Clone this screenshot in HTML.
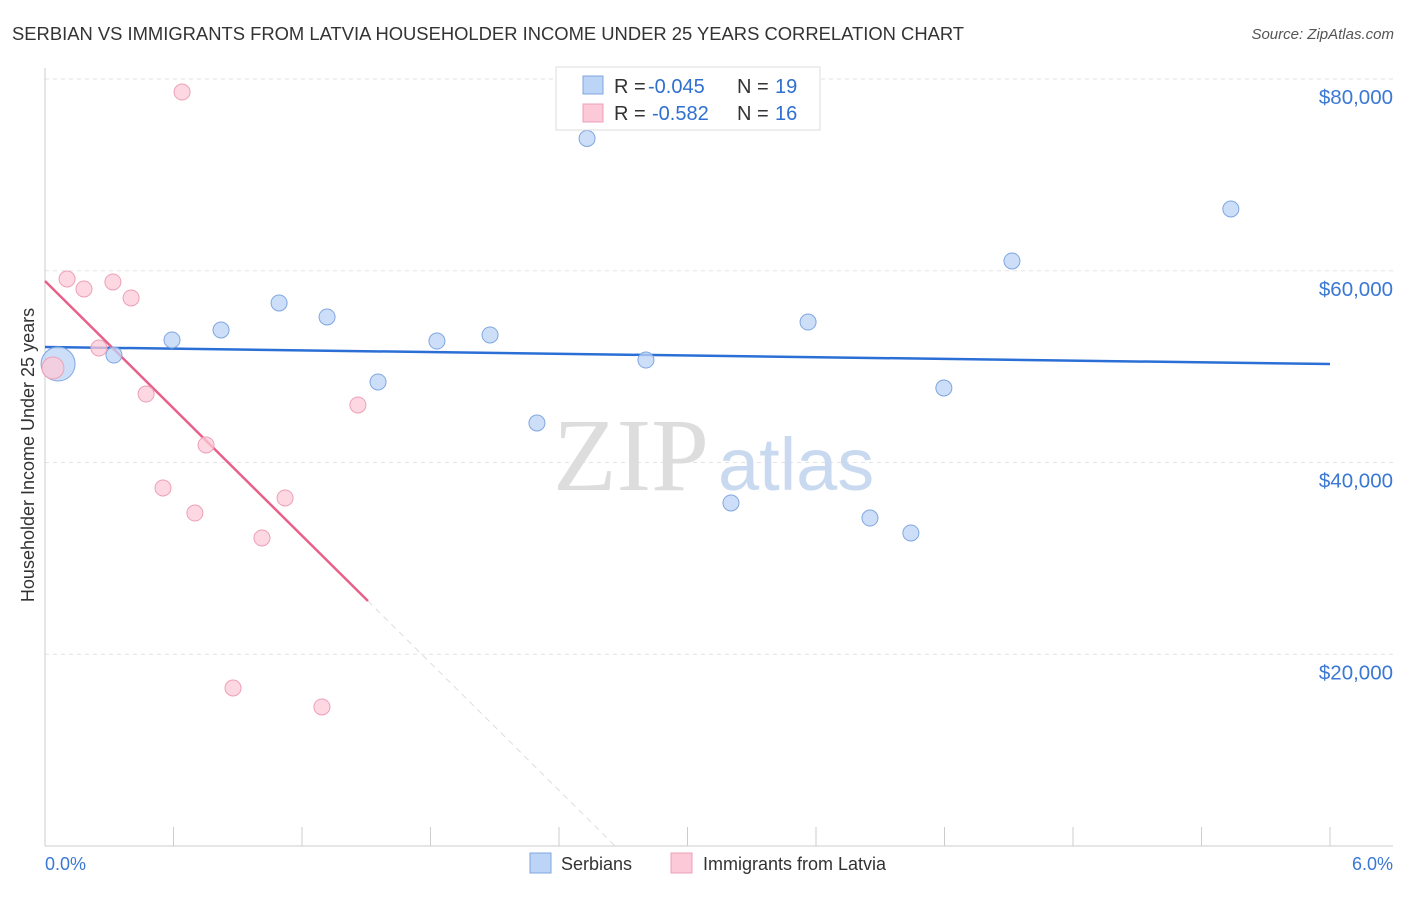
<!DOCTYPE html>
<html><head><meta charset="utf-8"><style>
body{margin:0;background:#fff;font-family:"Liberation Sans",sans-serif;}
</style></head><body>
<svg width="1406" height="892" xmlns="http://www.w3.org/2000/svg" font-family="Liberation Sans, sans-serif">
<text x="12" y="40" font-size="18.4" fill="#333">SERBIAN VS IMMIGRANTS FROM LATVIA HOUSEHOLDER INCOME UNDER 25 YEARS CORRELATION CHART</text>
<text x="1394" y="39" font-size="15" fill="#555" font-style="italic" text-anchor="end">Source: ZipAtlas.com</text>
<g id="grid"></g>
<g id="axes"></g>
<text x="553" y="490" font-size="104" fill="#ddd" font-family="Liberation Serif, serif">ZIP</text>
<text x="718" y="490" font-size="74" fill="#c9daf0">atlas</text>
<g id="lines"></g>
<g id="pts"></g>
<text x="34" y="455" font-size="18" fill="#333" text-anchor="middle" transform="rotate(-90 34 455)">Householder Income Under 25 years</text>
<text x="45" y="870" font-size="18" fill="#3a78d4">0.0%</text>
<text x="1393" y="870" font-size="18" fill="#3a78d4" text-anchor="end">6.0%</text>
<g>
<rect x="556" y="67" width="264" height="63" fill="#fff" stroke="#ddd"/>
<rect x="583" y="76" width="20" height="18" fill="#bcd4f5" stroke="#7fa6e0"/>
<rect x="583" y="104" width="20" height="18" fill="#fcc9d8" stroke="#eda0b8"/>
<text x="614" y="93" font-size="20" fill="#333">R =</text>
<text x="648" y="93" font-size="20" fill="#2f6fd0">-0.045</text>
<text x="737" y="93" font-size="20" fill="#333">N =</text>
<text x="775" y="93" font-size="20" fill="#2f6fd0">19</text>
<text x="614" y="120" font-size="20" fill="#333">R =</text>
<text x="652" y="120" font-size="20" fill="#2f6fd0">-0.582</text>
<text x="737" y="120" font-size="20" fill="#333">N =</text>
<text x="775" y="120" font-size="20" fill="#2f6fd0">16</text>
</g>
<g>
<rect x="530" y="853" width="21" height="20" fill="#bcd4f5" stroke="#7fa6e0"/>
<text x="561" y="870" font-size="18" fill="#333">Serbians</text>
<rect x="671" y="853" width="21" height="20" fill="#fcc9d8" stroke="#eda0b8"/>
<text x="703" y="870" font-size="18" fill="#333">Immigrants from Latvia</text>
</g>
</svg>
<script>
const serbX=[2.531,5.537,4.515,1.093,1.317,3.563,0.822,2.078,0.593,1.830,0.322,2.806,1.555,4.197,2.297,3.203,3.852,4.043,0.061];
const serbY=[73800,66440,61020,56640,55180,54650,53820,53300,52780,52670,51210,50690,48400,47770,44120,35780,34210,32650,50270];
const latX=[0.640,0.103,0.317,0.182,0.402,0.252,0.037,0.472,1.461,0.752,0.551,1.121,0.700,1.013,0.878,1.293];
const latY=[78640,59140,58830,58100,57160,51940,49860,47140,46000,41830,37340,36300,34730,32130,16480,14500];
const yTicks=[20000,40000,60000,80000];
const yTickLabels=["$20,000","$40,000","$60,000","$80,000"];
const serbTrend=[52050,50270];
const latTrend=[58930,-73880];
const latSolidEnd=1.508;
const NS="http://www.w3.org/2000/svg";
const X=v=>45+v/6*1285, Y=v=>846-v/20000*191.75;
function mk(t,a,p){const e=document.createElementNS(NS,t);for(const k in a)e.setAttribute(k,a[k]);document.getElementById(p).appendChild(e);return e;}
yTicks.forEach((t,i)=>{
 const l=mk('line',{x1:45,x2:1393,y1:Y(t),y2:Y(t),stroke:'#e3e3e3','stroke-dasharray':'4,4'},'grid');
 
 
 const tx=mk('text',{x:1393,y:Y(t)+25,'font-size':20.5,fill:'#3a78d4','text-anchor':'end'},'grid');
 tx.textContent=yTickLabels[i];
 
 
});
mk('line',{x1:45,x2:45,y1:68,y2:846,stroke:'#ccc'},'axes');
mk('line',{x1:45,x2:1393,y1:846,y2:846,stroke:'#ccc'},'axes');
for(let i=0;i<=10;i++){const t=mk('line',{x1:X(i*0.6),x2:X(i*0.6),y1:827,y2:846,stroke:'#ccc'},'axes');
 
 }
const b=mk('line',{x1:X(0),y1:Y(serbTrend[0]),x2:X(6),y2:Y(serbTrend[1]),stroke:'#2b6fd6','stroke-width':2.5},'lines');


const lf=x=>latTrend[0]+(latTrend[1]-latTrend[0])/6*x;
const zeroX=-latTrend[0]/((latTrend[1]-latTrend[0])/6);
const p1=mk('line',{x1:X(0),y1:Y(lf(0)),x2:X(latSolidEnd),y2:Y(lf(latSolidEnd)),stroke:'#e8608a','stroke-width':2.5},'lines');


const p2=mk('line',{x1:X(latSolidEnd),y1:Y(lf(latSolidEnd)),x2:X(zeroX),y2:Y(0),stroke:'#ddd','stroke-dasharray':'6,5'},'lines');


serbX.forEach((x,i)=>{const c=mk('circle',{cx:X(x),cy:Y(serbY[i]),r:i==18?17:8,fill:'#bcd4f5','fill-opacity':0.75,stroke:'#7fa6e0'},'pts');
 
 });
latX.forEach((x,i)=>{const c=mk('circle',{cx:X(x),cy:Y(latY[i]),r:i==6?11:8,fill:'#fcc9d8','fill-opacity':0.75,stroke:'#eda0b8'},'pts');
 
 });
</script>
</body></html>
